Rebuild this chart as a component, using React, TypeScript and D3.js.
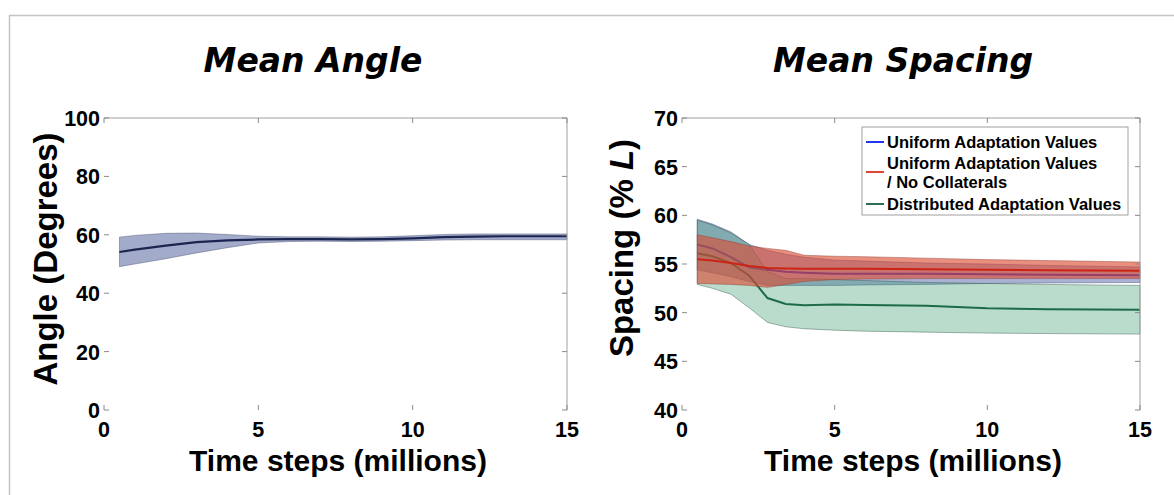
import React from 'react';
import * as d3 from 'd3';

// time axis (millions of steps)
const angleT = [0.5, 1, 2, 3, 4, 5, 6, 7, 8, 9, 10, 11, 12, 13, 14, 15];
const angleMean = [54.1, 54.9, 56.3, 57.5, 58.1, 58.4, 58.5, 58.5, 58.4, 58.5, 58.8, 59.2, 59.4, 59.5, 59.5, 59.5];
const angleHi = [59.2, 59.8, 60.5, 60.6, 60.1, 59.5, 59.3, 59.3, 59.2, 59.3, 59.7, 60.1, 60.3, 60.3, 60.3, 60.3];
const angleLo = [49.1, 50.0, 51.8, 53.8, 55.6, 57.2, 57.7, 57.8, 57.7, 57.8, 58.0, 58.2, 58.3, 58.3, 58.3, 58.3];

const spacingT = [0.5, 1.0, 1.6, 2.2, 2.8, 3.4, 4.0, 5, 6, 8, 10, 12, 15];
const uniformMean = [57.0, 56.6, 55.7, 54.65, 54.4, 54.2, 54.1, 54.0, 54.0, 54.0, 53.95, 53.9, 53.85];
const uniformHi = [59.6, 59.1, 58.3, 57.0, 56.4, 56.0, 55.7, 55.4, 55.3, 55.1, 55.0, 54.85, 54.7];
const uniformLo = [54.4, 54.1, 53.7, 53.2, 52.8, 52.8, 52.8, 52.8, 52.85, 52.9, 53.0, 53.05, 53.1];
const noCollMean = [55.5, 55.35, 55.1, 54.8, 54.6, 54.55, 54.5, 54.5, 54.5, 54.45, 54.4, 54.35, 54.3];
const noCollHi = [58.0, 57.7, 57.3, 56.85, 56.6, 56.4, 55.9, 55.8, 55.75, 55.6, 55.45, 55.35, 55.2];
const noCollLo = [53.0, 52.95, 52.9, 52.8, 52.6, 52.9, 53.2, 53.4, 53.45, 53.5, 53.5, 53.5, 53.5];
const distMean = [56.1, 55.8, 55.1, 53.8, 51.5, 50.9, 50.75, 50.85, 50.8, 50.7, 50.45, 50.35, 50.3];
const distHi = [59.5, 59.0, 58.2, 57.0, 54.2, 53.5, 53.5, 53.4, 53.3, 53.1, 53.0, 52.9, 52.8];
const distLo = [52.9, 52.5, 51.9, 50.5, 49.0, 48.55, 48.35, 48.2, 48.1, 48.0, 47.9, 47.85, 47.8];

const xTicks = [0, 5, 10, 15];
const angleTicks = [0, 20, 40, 60, 80, 100];
const spacingTicks = [40, 45, 50, 55, 60, 65, 70];

const legendLabels = [['Uniform Adaptation Values'], ['Uniform Adaptation Values', '/ No Collaterals'], ['Distributed Adaptation Values']];
const legendColors = ['#1f35f0', '#e0452f', '#2b6e52'];

const SANS = '"Liberation Sans", Arial, Helvetica, sans-serif';

function Axes({ x, y, yTicks }) {
  const [x0, x1] = x.range();
  const [yb, yt] = y.range();
  const tickCol = '#8a8a8a';
  return (
    <g>
      <line x1={x0} y1={yt} x2={x1} y2={yt} stroke="#a0a0a0" strokeWidth={1} />
      <line x1={x1} y1={yt} x2={x1} y2={yb} stroke="#a0a0a0" strokeWidth={1} />
      {yTicks.map(t => (
        <g key={'y' + t}>
          <line x1={x0} x2={x0 + 5} y1={y(t)} y2={y(t)} stroke={tickCol} />
          <line x1={x1 - 5} x2={x1} y1={y(t)} y2={y(t)} stroke={tickCol} />
          <text x={x0 - 4} y={y(t) + 8} textAnchor="end" fontSize={21.5} fontWeight="bold" fontFamily={SANS}>{t}</text>
        </g>
      ))}
      {xTicks.map(t => (
        <g key={'x' + t}>
          <line x1={x(t)} x2={x(t)} y1={yb} y2={yb - 5} stroke={tickCol} />
          <line x1={x(t)} x2={x(t)} y1={yt} y2={yt + 5} stroke={tickCol} />
          <text x={x(t)} y={yb + 27} textAnchor="middle" fontSize={21.5} fontWeight="bold" fontFamily={SANS}>{t}</text>
        </g>
      ))}
    </g>
  );
}

function Band({ x, y, t, lo, hi, mean, fill, opacity, edge, lineColor, lineWidth }) {
  const idx = d3.range(t.length);
  const area = d3.area().x(i => x(t[i])).y0(i => y(lo[i])).y1(i => y(hi[i]));
  const line = d3.line().x(i => x(t[i])).y(i => y(mean[i]));
  return (
    <g>
      <path d={area(idx)} fill={fill} fillOpacity={opacity} stroke={edge} strokeOpacity={0.55} strokeWidth={0.8} />
      <path d={line(idx)} fill="none" stroke={lineColor} strokeWidth={lineWidth} />
    </g>
  );
}

export default function App() {
  const xL = d3.scaleLinear().domain([0, 15]).range([104, 567]);
  const yL = d3.scaleLinear().domain([0, 100]).range([410, 118]);
  const xR = d3.scaleLinear().domain([0, 15]).range([682, 1140]);
  const yR = d3.scaleLinear().domain([40, 70]).range([410, 118]);

  return (
    <svg width={1174} height={495} style={{ position: 'absolute', left: 0, top: 0, background: '#fff' }}>
      <path d="M9.5,495 V15.5 H1174" fill="none" stroke="#c4c4c4" strokeWidth={1.5} />

      <text x={313} y={72} textAnchor="middle" fontSize={33} fontWeight="bold" fontStyle="italic" fontFamily='"DejaVu Sans", sans-serif'>Mean Angle</text>
      <text x={903} y={72} textAnchor="middle" fontSize={33} fontWeight="bold" fontStyle="italic" fontFamily='"DejaVu Sans", sans-serif'>Mean Spacing</text>

      {/* left panel */}
      <Band x={xL} y={yL} t={angleT} lo={angleLo} hi={angleHi} mean={angleMean}
        fill="#a3abca" opacity={1} edge="#4a5070" lineColor="#1b2550" lineWidth={2.2} />
      <Axes x={xL} y={yL} yTicks={angleTicks} />
      <text transform="translate(57,259) rotate(-90)" textAnchor="middle" fontSize={33} fontWeight="bold" fontFamily={SANS}>Angle (Degrees)</text>
      <text x={338} y={471} textAnchor="middle" fontSize={30} fontWeight="bold" fontFamily={SANS}>Time steps (millions)</text>

      {/* right panel */}
      <Band x={xR} y={yR} t={spacingT} lo={uniformLo} hi={uniformHi} mean={uniformMean}
        fill="#5566aa" opacity={0.5} edge="#404870" lineColor="#2030c0" lineWidth={2} />
      <Band x={xR} y={yR} t={spacingT} lo={distLo} hi={distHi} mean={distMean}
        fill="#3a9a70" opacity={0.35} edge="#305848" lineColor="#1e6b48" lineWidth={2} />
      <Band x={xR} y={yR} t={spacingT} lo={noCollLo} hi={noCollHi} mean={noCollMean}
        fill="#dc4a32" opacity={0.62} edge="#904030" lineColor="#cc2414" lineWidth={2} />
      <Axes x={xR} y={yR} yTicks={spacingTicks} />
      <text transform="translate(633,248) rotate(-90)" textAnchor="middle" fontSize={33} fontWeight="bold" fontFamily={SANS}>
        Spacing (% <tspan fontStyle="italic">L</tspan>)
      </text>
      <text x={913} y={471} textAnchor="middle" fontSize={30} fontWeight="bold" fontFamily={SANS}>Time steps (millions)</text>

      {/* legend */}
      <g>
        <rect x={862} y={127} width={266} height={88} fill="#fff" stroke="#a0a0a0" strokeWidth={1} />
        {legendLabels.map((lines, i) => {
          const base = [142, 163, 204][i];
          const ly = i === 1 ? 172 : base;
          return (
            <g key={i}>
              <line x1={866} x2={884} y1={ly} y2={ly} stroke={legendColors[i]} strokeWidth={2} />
              {lines.map((s, j) => (
                <text key={j} x={887} y={base + 6 + j * 19} fontSize={16.5} fontWeight="bold" fontFamily={SANS}>{s}</text>
              ))}
            </g>
          );
        })}
      </g>
    </svg>
  );
}
